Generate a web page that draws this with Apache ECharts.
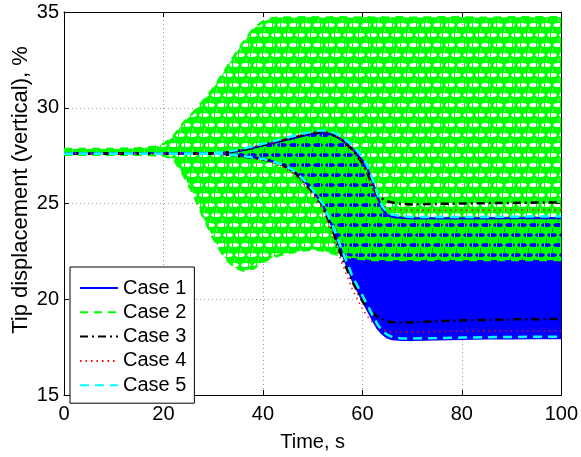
<!DOCTYPE html>
<html>
<head>
<meta charset="utf-8">
<script src="https://cdn.jsdelivr.net/npm/echarts@6/dist/echarts.min.js"></script>
<style>
  html, body { margin: 0; padding: 0; background: #fff; }
  #chart { width: 581px; height: 457px; }
</style>
</head>
<body>
<div id="chart"></div>
<script>
// Sample times (s) at which the oscillation envelopes are given
const time = [0, 10, 15, 18, 20, 22, 24, 26, 28, 30, 32, 34, 36, 38, 40, 42, 44, 46, 48, 50,
              52, 54, 56, 58, 60, 61, 62, 63, 64, 65, 66, 68, 70, 75, 80, 85, 90, 95, 100];

// Upper / lower envelopes of the tip displacement (%) for each case
const case1Upper = [27.6, 27.6, 27.6, 27.6, 27.6, 27.6, 27.6, 27.6, 27.6, 27.6, 27.64, 27.7, 27.78, 27.9, 28.03, 28.15, 28.28, 28.4, 28.53, 28.64,
                    28.7, 28.6, 28.3, 27.85, 27.25, 26.8, 26.15, 25.35, 24.7, 24.4, 24.3, 24.25, 24.22, 24.22, 24.22, 24.22, 24.23, 24.24, 24.24];
const case1Lower = [27.6, 27.6, 27.6, 27.6, 27.6, 27.6, 27.6, 27.6, 27.6, 27.6, 27.58, 27.54, 27.48, 27.42, 27.33, 27.2, 27.02, 26.74, 26.27, 25.68,
                    24.95, 23.75, 22.35, 21.0, 19.95, 19.45, 18.95, 18.5, 18.2, 18.0, 17.92, 17.88, 17.88, 17.9, 17.93, 17.95, 17.96, 17.97, 17.97];

const case2Upper = [27.85, 27.85, 27.88, 27.95, 28.1, 28.5, 29.2, 29.75, 30.35, 31.0, 31.8, 32.6, 33.4, 34.1, 34.5, 34.68, 34.72, 34.7, 34.72, 34.72,
                    34.7, 34.72, 34.72, 34.7, 34.72, 34.72, 34.7, 34.72, 34.72, 34.7, 34.72, 34.72, 34.7, 34.72, 34.72, 34.7, 34.72, 34.72, 34.72];
const case2Lower = [27.55, 27.55, 27.55, 27.52, 27.5, 27.35, 26.5, 25.5, 24.3, 23.2, 22.3, 21.7, 21.5, 21.6, 21.95, 22.2, 22.35, 22.45, 22.55, 22.6,
                    22.55, 22.4, 22.25, 22.15, 22.1, 22.08, 22.05, 22.05, 22.05, 22.05, 22.05, 22.05, 22.05, 22.05, 22.05, 22.05, 22.05, 22.05, 22.05];

const case3Upper = [27.6, 27.6, 27.6, 27.6, 27.6, 27.6, 27.6, 27.6, 27.6, 27.62, 27.65, 27.72, 27.8, 27.92, 28.05, 28.18, 28.3, 28.43, 28.57, 28.68,
                    28.74, 28.62, 28.3, 27.8, 27.1, 26.6, 25.9, 25.45, 25.25, 25.12, 25.05, 24.98, 24.95, 24.98, 25.0, 25.02, 25.03, 25.05, 25.05];
const case3Lower = [27.6, 27.6, 27.6, 27.6, 27.6, 27.6, 27.6, 27.6, 27.6, 27.6, 27.58, 27.52, 27.45, 27.38, 27.3, 27.2, 27.0, 26.7, 26.2, 25.6,
                    24.9, 23.6, 22.1, 20.9, 19.9, 19.55, 19.3, 19.1, 18.95, 18.85, 18.8, 18.78, 18.8, 18.85, 18.9, 18.92, 18.95, 18.96, 18.97];

const case4Upper = [27.6, 27.6, 27.6, 27.6, 27.6, 27.6, 27.6, 27.6, 27.6, 27.62, 27.66, 27.73, 27.82, 27.94, 28.07, 28.2, 28.32, 28.45, 28.58, 28.7,
                    28.76, 28.64, 28.32, 27.82, 27.1, 26.55, 25.8, 25.2, 24.9, 24.75, 24.7, 24.66, 24.65, 24.65, 24.65, 24.65, 24.66, 24.66, 24.66];
const case4Lower = [27.6, 27.6, 27.6, 27.6, 27.6, 27.6, 27.6, 27.6, 27.6, 27.6, 27.57, 27.5, 27.43, 27.35, 27.26, 27.12, 26.9, 26.6, 26.08, 25.45,
                    24.7, 23.3, 21.8, 20.5, 19.5, 19.1, 18.8, 18.55, 18.4, 18.33, 18.3, 18.28, 18.3, 18.31, 18.33, 18.34, 18.35, 18.35, 18.35];

const case5Upper = [27.6, 27.6, 27.6, 27.6, 27.6, 27.6, 27.6, 27.6, 27.6, 27.63, 27.68, 27.76, 27.86, 27.98, 28.12, 28.25, 28.38, 28.52, 28.65, 28.76,
                    28.82, 28.72, 28.45, 28.05, 27.45, 26.95, 26.3, 25.5, 24.85, 24.55, 24.42, 24.33, 24.3, 24.3, 24.3, 24.3, 24.31, 24.32, 24.32];
const case5Lower = [27.6, 27.6, 27.6, 27.6, 27.6, 27.6, 27.6, 27.6, 27.6, 27.6, 27.58, 27.53, 27.47, 27.4, 27.32, 27.2, 27.02, 26.75, 26.3, 25.72,
                    25.0, 23.85, 22.5, 21.2, 20.2, 19.7, 19.2, 18.7, 18.35, 18.15, 18.02, 17.95, 17.95, 17.97, 18.0, 18.02, 18.03, 18.04, 18.05];

const caseNames = ['Case 1', 'Case 2', 'Case 3', 'Case 4', 'Case 5'];
const xTicks = { min: 0, max: 100, interval: 20 };
const yTicks = { min: 15, max: 35, interval: 5 };

const FONT = '"Liberation Sans", Arial, Helvetica, sans-serif';

// Texture for the fast green dashed oscillation: vertical green strokes with
// see-through gap rows (the gaps of the dashes), staggered from row to row
function makeOscillationTexture() {
  const c = document.createElement('canvas');
  c.width = 24; c.height = 20;
  const g = c.getContext('2d');
  g.fillStyle = '#00ff00';
  g.fillRect(0, 0, 24, 20);
  g.globalCompositeOperation = 'destination-out';
  g.fillStyle = '#000';
  // gap centres [x, y]
  const gaps = [[6, 5], [18, 5], [0, 15], [12, 15], [24, 15]];
  gaps.forEach(function (p) {
    g.beginPath();
    g.ellipse(p[0], p[1], 4.8, 2.0, 0, 0, Math.PI * 2);
    g.fill();
  });
  // thin green strokes crossing the gaps
  g.globalCompositeOperation = 'source-over';
  g.fillStyle = '#00ff00';
  g.fillRect(8, 3, 1, 4);
  g.fillRect(16, 3, 1, 4);
  g.fillRect(10, 13, 1, 4);
  g.fillRect(22, 13, 1, 4);
  // faint light streaks inside the strokes
  g.globalCompositeOperation = 'destination-out';
  g.globalAlpha = 0.45;
  g.fillRect(0, 8, 1, 4);
  g.fillRect(12, 8, 1, 4);
  g.fillRect(6, 18, 1, 2);
  g.fillRect(6, 0, 1, 2);
  g.fillRect(18, 18, 1, 2);
  g.fillRect(18, 0, 1, 2);
  return c;
}

function pairs(arr) {
  return time.map(function (t, i) { return [t, arr[i]]; });
}

function bandSeries(name, upper, lower, fill) {
  const rows = time.map(function (t, i) { return [t, lower[i], upper[i]]; });
  return {
    type: 'custom',
    name: name,
    clip: true,
    silent: true,
    data: rows,
    encode: { x: 0, y: [1, 2] },
    renderItem: function (params, api) {
      if (params.dataIndex !== 0) return;
      const pts = [];
      for (let i = 0; i < rows.length; i++) pts.push(api.coord([rows[i][0], rows[i][2]]));
      for (let i = rows.length - 1; i >= 0; i--) pts.push(api.coord([rows[i][0], rows[i][1]]));
      return {
        type: 'polygon',
        shape: { points: pts },
        style: { fill: fill, stroke: null }
      };
    }
  };
}

function envelopeSeries(name, arr, color, width, dash) {
  return {
    type: 'line',
    name: name,
    data: pairs(arr),
    symbol: 'none',
    showSymbol: false,
    clip: true,
    silent: true,
    lineStyle: { color: color, width: width, type: dash },
    itemStyle: { color: color }
  };
}

const styles = {
  'Case 1': { color: '#0000ff', width: 2.2, dash: 'solid' },
  'Case 2': { color: '#00ff00', width: 2.5, dash: [8, 6] },
  'Case 3': { color: '#000000', width: 2.5, dash: [8, 4, 2, 4] },
  'Case 4': { color: '#ff0000', width: 1.4, dash: [1.5, 4] },
  'Case 5': { color: '#00ffff', width: 2.5, dash: [9, 6] }
};

const envelopes = {
  'Case 1': [case1Upper, case1Lower],
  'Case 2': [case2Upper, case2Lower],
  'Case 3': [case3Upper, case3Lower],
  'Case 4': [case4Upper, case4Lower],
  'Case 5': [case5Upper, case5Lower]
};

const series = [];
series.push(bandSeries('Case 1 band', case1Upper, case1Lower, '#0000ff'));
caseNames.forEach(function (n) {
  const s = styles[n];
  if (n === 'Case 2') {
    series.push(bandSeries('Case 2 band', case2Upper, case2Lower,
      { image: makeOscillationTexture(), repeat: 'repeat' }));
  }
  series.push(envelopeSeries(n, envelopes[n][0], s.color, s.width, s.dash));
  series.push(envelopeSeries(n, envelopes[n][1], s.color, s.width, s.dash));
});

const chart = echarts.init(document.getElementById('chart'), null, { renderer: 'canvas' });

const axisLine = { show: true, onZero: false, lineStyle: { color: '#000', width: 1 } };

chart.setOption({
  animation: false,
  backgroundColor: '#fff',
  textStyle: { fontFamily: FONT, color: '#000' },
  grid: { left: 64, right: 18, top: 12, bottom: 52, containLabel: false },
  legend: {
    data: caseNames,
    orient: 'vertical',
    left: 70,
    top: 267,
    padding: [11, 8, 8, 9],
    itemWidth: 38,
    itemHeight: 14,
    itemGap: 4.3,
    itemTextGap: 5,
    backgroundColor: '#fff',
    borderColor: '#000',
    borderWidth: 1,
    borderRadius: 0,
    selectedMode: false,
    // line samples only, no marker on them
    itemStyle: { color: 'rgba(0,0,0,0)', borderColor: 'rgba(0,0,0,0)', borderWidth: 0, opacity: 0 },
    textStyle: { fontFamily: FONT, fontSize: 20, color: '#000', lineHeight: 20 }
  },
  xAxis: [{
    type: 'value',
    min: xTicks.min, max: xTicks.max, interval: xTicks.interval,
    position: 'bottom',
    name: 'Time, s',
    nameLocation: 'middle',
    nameGap: 37,
    nameTextStyle: { fontFamily: FONT, fontSize: 20, color: '#000' },
    axisLine: axisLine,
    axisTick: { show: true, inside: true, length: 5, lineStyle: { color: '#000' } },
    axisLabel: { show: true, margin: 9, fontFamily: FONT, fontSize: 20, color: '#000' },
    splitLine: { show: true, lineStyle: { color: '#9a9a9a', width: 1, type: [1, 3] } }
  }, {
    type: 'value',
    min: xTicks.min, max: xTicks.max, interval: xTicks.interval,
    position: 'top',
    axisLine: axisLine,
    axisTick: { show: true, inside: true, length: 5, lineStyle: { color: '#000' } },
    axisLabel: { show: false },
    splitLine: { show: false }
  }],
  yAxis: [{
    type: 'value',
    min: yTicks.min, max: yTicks.max, interval: yTicks.interval,
    position: 'left',
    axisLine: axisLine,
    axisTick: { show: true, inside: true, length: 5, lineStyle: { color: '#000' } },
    axisLabel: { show: true, margin: 5, fontFamily: FONT, fontSize: 20, color: '#000' },
    splitLine: { show: true, lineStyle: { color: '#9a9a9a', width: 1, type: [1, 3] } }
  }, {
    type: 'value',
    min: yTicks.min, max: yTicks.max, interval: yTicks.interval,
    position: 'right',
    axisLine: axisLine,
    axisTick: { show: true, inside: true, length: 5, lineStyle: { color: '#000' } },
    axisLabel: { show: false },
    splitLine: { show: false }
  }],
  graphic: [{
    type: 'text',
    x: 21,
    y: 190,
    rotation: Math.PI / 2,
    style: {
      text: 'Tip displacement (vertical), %',
      fontFamily: FONT,
      fontSize: 22,
      fill: '#000',
      align: 'center',
      verticalAlign: 'middle'
    }
  }],
  series: series
});
</script>
</body>
</html>
